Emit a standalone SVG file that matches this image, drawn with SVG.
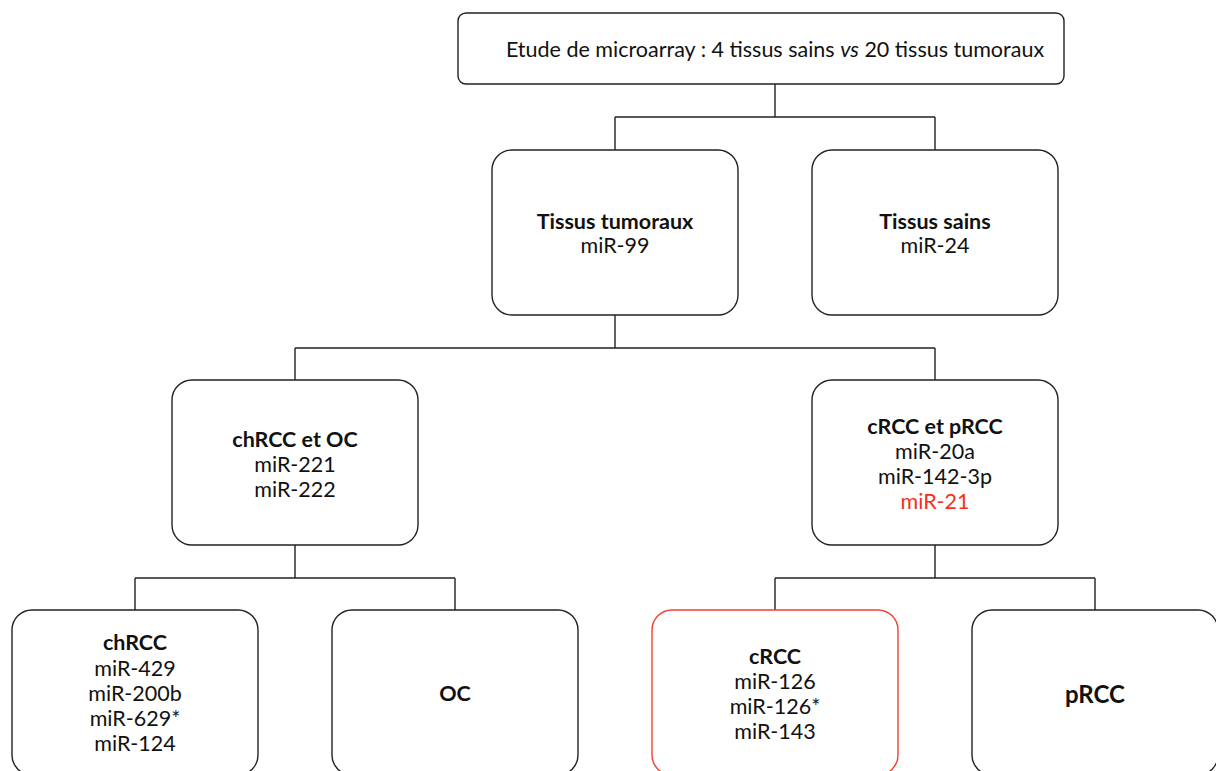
<svg xmlns="http://www.w3.org/2000/svg" width="1216" height="771" viewBox="0 0 1216 771">
<style>
.box{fill:#fff;stroke:#222;stroke-width:1.4}
.red{stroke:#f0402e}
.ln{fill:none;stroke:#222;stroke-width:1.4}
text{font-family:Lato,"Open Sans","Liberation Sans",sans-serif;font-size:21.5px;fill:#111;text-anchor:middle}
.b{font-weight:bold}
.r{fill:#f52f22}
</style>
<rect width="1216" height="771" fill="#fff"/>
<g id="connectors">
<path class="ln" d="M775 84V117M615 117H935M615 117V150M935 117V150"/>
<path class="ln" d="M615 315V348M295 348H935M295 348V380M935 348V380"/>
<path class="ln" d="M295 545V578M135 578H455M135 578V610M455 578V610"/>
<path class="ln" d="M935 545V578M775 578H1095M775 578V610M1095 578V610"/>
</g>
<g id="top">
<rect class="box" x="458" y="13" width="606" height="71" rx="8"/>
<text x="775" y="57">Etude de microarray : 4 tissus sains <tspan font-style="italic">vs</tspan> 20 tissus tumoraux</text>
</g>
<g id="tumoraux">
<rect class="box" x="492" y="150" width="246" height="165" rx="20"/>
<text x="615" y="229" class="b">Tissus tumoraux</text>
<text x="615" y="253">miR-99</text>
</g>
<g id="sains">
<rect class="box" x="812" y="150" width="246" height="165" rx="20"/>
<text x="935" y="229" class="b">Tissus sains</text>
<text x="935" y="253">miR-24</text>
</g>
<g id="chrcc-oc">
<rect class="box" x="172" y="380" width="246" height="165" rx="20"/>
<text x="295" y="447" class="b">chRCC et OC</text>
<text x="295" y="472">miR-221</text>
<text x="295" y="497">miR-222</text>
</g>
<g id="crcc-prcc">
<rect class="box" x="812" y="380" width="246" height="165" rx="20"/>
<text x="935" y="434" class="b">cRCC et pRCC</text>
<text x="935" y="459">miR-20a</text>
<text x="935" y="484">miR-142-3p</text>
<text x="935" y="509" class="r">miR-21</text>
</g>
<g id="chrcc">
<rect class="box" x="12" y="610" width="246" height="165" rx="20"/>
<text x="135" y="650" class="b">chRCC</text>
<text x="135" y="676">miR-429</text>
<text x="135" y="701">miR-200b</text>
<text x="135" y="726">miR-629*</text>
<text x="135" y="751">miR-124</text>
</g>
<g id="oc">
<rect class="box" x="332" y="610" width="246" height="165" rx="20"/>
<text x="455" y="701" class="b">OC</text>
</g>
<g id="crcc">
<rect class="box red" x="652" y="610" width="246" height="165" rx="20"/>
<text x="775" y="664" class="b">cRCC</text>
<text x="775" y="689">miR-126</text>
<text x="775" y="714">miR-126*</text>
<text x="775" y="739">miR-143</text>
</g>
<g id="prcc">
<rect class="box" x="972" y="610" width="246" height="165" rx="20"/>
<text x="1095" y="703" class="b" style="font-size:24px">pRCC</text>
</g>
</svg>
